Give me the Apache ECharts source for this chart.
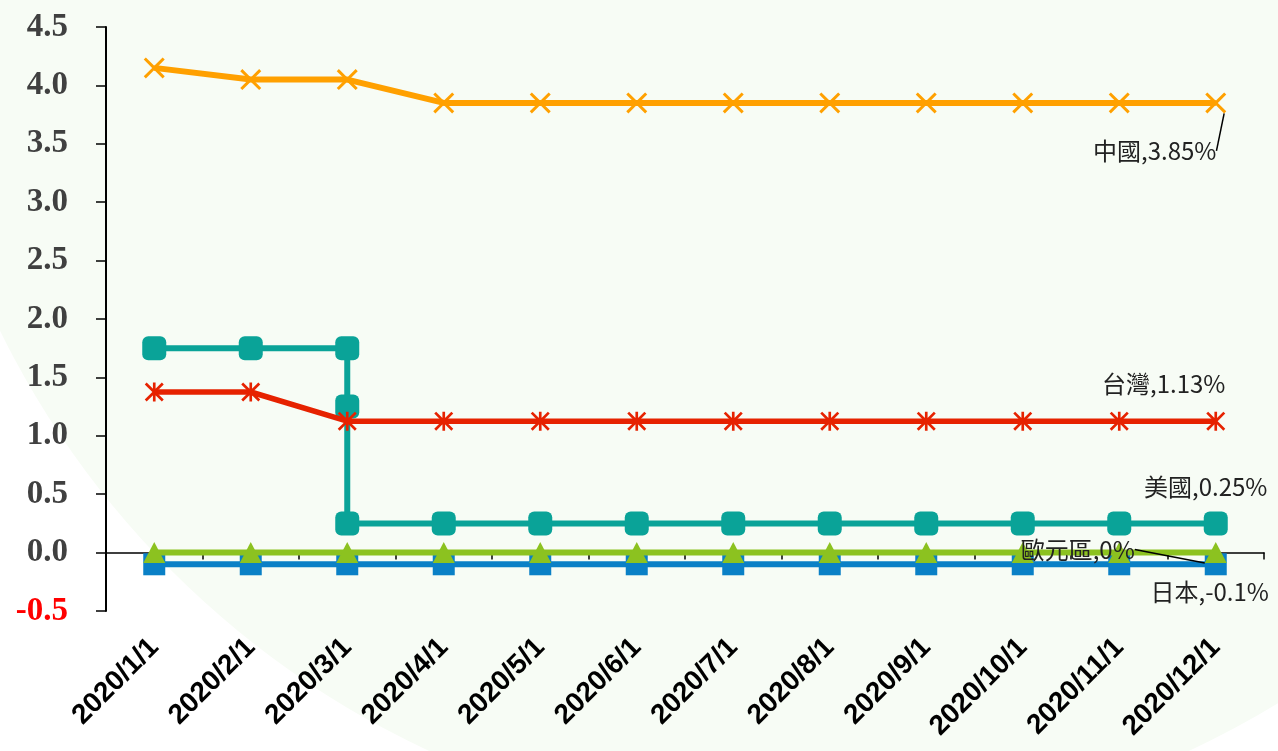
<!DOCTYPE html>
<html>
<head>
<meta charset="utf-8">
<style>
html,body{margin:0;padding:0;background:#ffffff;}
#main{width:1278px;height:751px;}
</style>
<script src="https://cdn.jsdelivr.net/npm/echarts@6/dist/echarts.min.js"></script>
</head>
<body>
<div id="main"></div>
<script>
const categories = ['2020/1/1','2020/2/1','2020/3/1','2020/4/1','2020/5/1','2020/6/1','2020/7/1','2020/8/1','2020/9/1','2020/10/1','2020/11/1','2020/12/1'];
const seriesNames = ['中國','台灣','美國','歐元區','日本'];
const endLabels = ['中國,3.85%','台灣,1.13%','美國,0.25%','歐元區,0%','日本,-0.1%'];
const china  = [4.15, 4.05, 4.05, 3.85, 3.85, 3.85, 3.85, 3.85, 3.85, 3.85, 3.85, 3.85];
const taiwan = [1.375, 1.375, 1.125, 1.125, 1.125, 1.125, 1.125, 1.125, 1.125, 1.125, 1.125, 1.125];
// US: two cuts in March, plotted at the same category
const usCat  = [0, 1, 2, 2, 2, 3, 4, 5, 6, 7, 8, 9, 10, 11];
const usVal  = [1.75, 1.75, 1.75, 1.25, 0.25, 0.25, 0.25, 0.25, 0.25, 0.25, 0.25, 0.25, 0.25, 0.25];
const euro   = [0, 0, 0, 0, 0, 0, 0, 0, 0, 0, 0, 0];
const japan  = [-0.1, -0.1, -0.1, -0.1, -0.1, -0.1, -0.1, -0.1, -0.1, -0.1, -0.1, -0.1];
const yMin = -0.5, yMax = 4.5, yStep = 0.5;

const xPath = 'path://M0,10L10,0L50,40L90,0L100,10L60,50L100,90L90,100L50,60L10,100L0,90L40,50Z';
const starPath = 'path://M0,10L10,0L50,40L90,0L100,10L60,50L100,90L90,100L50,60L10,100L0,90L40,50ZM43,0L57,0L57,100L43,100Z';

const labelFont = {fontSize: 24, color: '#222', fontFamily: '"Noto Sans CJK TC","Noto Sans",sans-serif'};

function withEndLabel(data, idx) {
  const out = data.map(v => v);
  const last = out.length - 1;
  out[last] = {value: out[last], label: Object.assign({show: true, position: 'inside', formatter: endLabels[idx]}, labelFont)};
  return out;
}

const usData = usCat.map((c, i) => [c, usVal[i]]);

const chart = echarts.init(document.getElementById('main'));
chart.setOption({
  animation: false,
  backgroundColor: '#ffffff',
  graphic: [{
    type: 'circle', z: -100, silent: true,
    shape: {cx: 809, cy: -66, r: 901},
    style: {fill: '#f7fcf5'}
  }],
  grid: {left: 106, right: 14, top: 27, bottom: 140},
  xAxis: [{
    type: 'category', data: categories, boundaryGap: true, position: 'bottom',
    axisLine: {show: false, onZero: false},
    axisTick: {show: false},
    axisLabel: {rotate: 45, margin: 32, fontSize: 28, fontWeight: 'bold', color: '#000', fontFamily: '"Liberation Sans",Arial,sans-serif', interval: 0}
  }, {
    type: 'category', data: categories, boundaryGap: true, position: 'top',
    axisLine: {show: true, onZero: true, lineStyle: {color: '#000', width: 1.5}},
    axisTick: {show: true, inside: true, length: 7, lineStyle: {color: '#000', width: 1.5}},
    axisLabel: {show: false}
  }],
  yAxis: {
    type: 'value', min: yMin, max: yMax, interval: yStep,
    axisLine: {show: true, lineStyle: {color: '#000', width: 2}},
    axisTick: {show: true, length: 10, lineStyle: {color: '#000', width: 1.5}},
    splitLine: {show: false},
    axisLabel: {
      margin: 38, fontSize: 33, fontWeight: 'bold', fontFamily: '"Liberation Serif","Times New Roman",serif',
      formatter: v => v.toFixed(1),
      color: v => (Number(v) < 0 ? '#ff0000' : '#404040')
    }
  },
  series: [
    {
      name: seriesNames[4], type: 'line', data: withEndLabel(japan, 4),
      symbol: 'rect', symbolSize: 22, z: 2,
      lineStyle: {color: '#0a80c6', width: 6}, itemStyle: {color: '#0a80c6'},
      labelLayout: {dx: -6, dy: 28},
      labelLine: {show: false}
    },
    {
      name: seriesNames[3], type: 'line', data: withEndLabel(euro, 3),
      symbol: 'triangle', symbolSize: [22, 21], z: 3,
      lineStyle: {color: '#8cc220', width: 6}, itemStyle: {color: '#8cc220'},
      labelLayout: {dx: -138, dy: -3},
      labelLine: {show: true, lineStyle: {color: '#000', width: 1.5}}
    },
    {
      name: seriesNames[2], type: 'line', data: withEndLabel(usData, 2),
      symbol: 'roundRect', symbolSize: 24, z: 4,
      lineStyle: {color: '#0aa398', width: 6}, itemStyle: {color: '#0aa398'},
      labelLayout: {dx: -10, dy: -37},
      labelLine: {show: false}
    },
    {
      name: seriesNames[1], type: 'line', data: withEndLabel(taiwan, 1),
      symbol: starPath, symbolSize: 19, z: 5,
      lineStyle: {color: '#e62200', width: 5.5}, itemStyle: {color: '#e62200'},
      labelLayout: {dx: -52, dy: -37},
      labelLine: {show: false}
    },
    {
      name: seriesNames[0], type: 'line', data: withEndLabel(china, 0),
      symbol: xPath, symbolSize: 21, z: 6,
      lineStyle: {color: '#ffa000', width: 6}, itemStyle: {color: '#ffa000'},
      labelLayout: {dx: -61, dy: 48},
      labelLine: {show: true, lineStyle: {color: '#000', width: 1.5}}
    }
  ]
});
</script>
</body>
</html>
